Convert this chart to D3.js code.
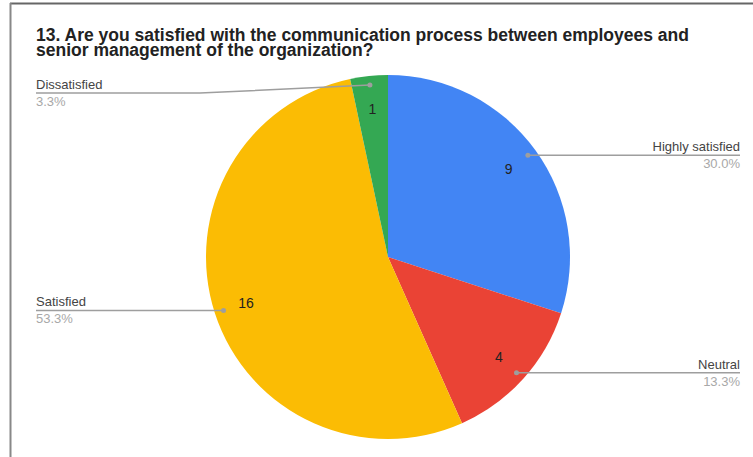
<!DOCTYPE html>
<html>
<head>
<meta charset="utf-8">
<script src="https://cdn.jsdelivr.net/npm/d3@7"></script>
<style>
  html, body { margin: 0; padding: 0; background: #fff; }
  svg { display: block; font-family: "Liberation Sans", Arial, sans-serif; }
</style>
</head>
<body>
<svg id="chart" width="753" height="457"></svg>
<script>
// Survey answers, in the order the slices run clockwise from 12 o'clock
const categories = ["Highly satisfied", "Neutral", "Satisfied", "Dissatisfied"];
const counts = [9, 4, 16, 1];
const colors = ["#4285F4", "#EA4335", "#FBBC04", "#34A853"];
const titleLines = [
  "13. Are you satisfied with the communication process between employees and",
  "senior management of the organization?"
];

const svg = d3.select("#chart");
const W = 753, H = 457;

// Frame edges
svg.append("line").attr("x1", 10).attr("x2", W).attr("y1", 3.5).attr("y2", 3.5)
  .attr("stroke", "#666").attr("stroke-width", 2);
svg.append("line").attr("x1", 10.5).attr("x2", 10.5).attr("y1", 3).attr("y2", H)
  .attr("stroke", "#888").attr("stroke-width", 2);

// Title
svg.append("text")
  .attr("x", 36).attr("y", 40.5)
  .attr("font-size", 17.5).attr("font-weight", "bold").attr("fill", "#222")
  .selectAll("tspan").data(titleLines).join("tspan")
  .attr("x", 36).attr("dy", (d, i) => i === 0 ? 0 : 15.5)
  .text(d => d);

const cx = 388, cy = 257, R = 182;
const total = d3.sum(counts);
const data = categories.map((c, i) => ({ name: c, value: counts[i], color: colors[i] }));

const pie = d3.pie().value(d => d.value).sort(null);
const arcs = pie(data);
const arc = d3.arc().innerRadius(0).outerRadius(R);
const labelArc = d3.arc().innerRadius(R * 0.82).outerRadius(R * 0.82);
const dotArc = d3.arc().innerRadius(R * 0.95).outerRadius(R * 0.95);

const g = svg.append("g").attr("transform", `translate(${cx},${cy})`);

g.selectAll("path.slice").data(arcs).join("path")
  .attr("class", "slice")
  .attr("d", arc)
  .attr("fill", d => d.data.color);

// Value labels inside slices
g.selectAll("text.value").data(arcs).join("text")
  .attr("class", "value")
  .attr("transform", d => `translate(${labelArc.centroid(d)})`)
  .attr("text-anchor", "middle")
  .attr("dy", "0.36em")
  .attr("font-size", 14)
  .attr("fill", "#222")
  .text(d => d.data.value);

// Leader lines and outside labels
const pct = d3.format(".1%");
const leftX = 36, rightX = 740, minLineY = 93, bendGap = 170;

arcs.forEach(d => {
  const [dx, dy] = dotArc.centroid(d);
  const px = cx + dx, py = cy + dy;
  const mid = (d.startAngle + d.endAngle) / 2;
  const onRight = mid < Math.PI;
  const lineY = Math.max(py, minLineY);
  const endX = onRight ? rightX : leftX;

  const pts = [[px, py]];
  if (Math.abs(lineY - py) > 0.5) {
    pts.push([onRight ? px + bendGap : px - bendGap, lineY]);
  }
  pts.push([endX, lineY]);

  svg.append("path")
    .attr("d", d3.line()(pts))
    .attr("fill", "none")
    .attr("stroke", "#9e9e9e")
    .attr("stroke-width", 1.5);

  svg.append("circle")
    .attr("cx", px).attr("cy", py).attr("r", 2.5)
    .attr("fill", "#9e9e9e");

  const anchor = onRight ? "end" : "start";
  svg.append("text")
    .attr("x", endX).attr("y", lineY - 4)
    .attr("text-anchor", anchor)
    .attr("font-size", 13).attr("fill", "#444")
    .text(d.data.name);
  svg.append("text")
    .attr("x", endX).attr("y", lineY + 13)
    .attr("text-anchor", anchor)
    .attr("font-size", 13).attr("fill", "#a8a8a8")
    .text(pct(d.data.value / total));
});
</script>
</body>
</html>
